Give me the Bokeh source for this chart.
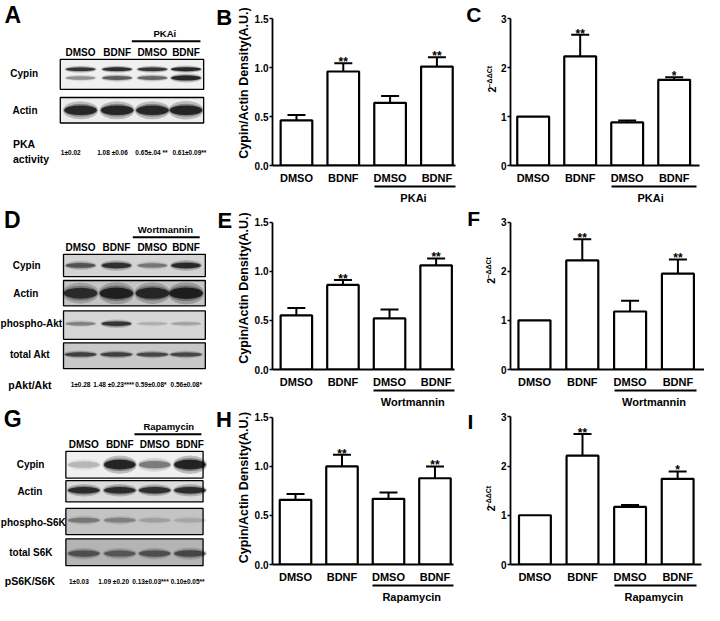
import math
from bokeh.plotting import figure
from bokeh.models import (Range1d, LinearAxis, FixedTicker, NumeralTickFormatter,
                          ColumnDataSource, Whisker, TeeHead)
from bokeh.layouts import row, column
from bokeh.embed import file_html
from bokeh.resources import INLINE
from bokeh.core.properties import value

# ------------------------------------------------------------------ data
lanes = ["DMSO", "BDNF", "DMSO", "BDNF"]
inhibitors = ["PKAi", "Wortmannin", "Rapamycin"]

cypin_pka = [0.46, 0.96, 0.64, 1.01]
cypin_pka_err = [0.055, 0.085, 0.07, 0.095]
cypin_pka_sig = ["", "**", "", "**"]
mrna_pka = [1.0, 2.23, 0.88, 1.75]
mrna_pka_err = [0.0, 0.44, 0.04, 0.05]
mrna_pka_sig = ["", "**", "", "*"]

cypin_wort = [0.55, 0.86, 0.52, 1.06]
cypin_wort_err = [0.075, 0.05, 0.09, 0.07]
cypin_wort_sig = ["", "**", "", "**"]
mrna_wort = [1.0, 2.22, 1.18, 1.95]
mrna_wort_err = [0.0, 0.43, 0.22, 0.29]
mrna_wort_sig = ["", "**", "", "**"]

cypin_rapa = [0.66, 1.0, 0.67, 0.88]
cypin_rapa_err = [0.06, 0.12, 0.065, 0.12]
cypin_rapa_sig = ["", "**", "", "**"]
mrna_rapa = [1.0, 2.21, 1.17, 1.74]
mrna_rapa_err = [0.0, 0.44, 0.04, 0.15]
mrna_rapa_sig = ["", "**", "", "*"]

density_ticks = [0.0, 0.5, 1.0, 1.5]
mrna_ticks = [0, 1, 2, 3]
density_label = "Cypin/Actin Density(A.U.)"
mrna_label_base = "2"
mrna_label_sup = "\u2212\u0394\u0394Ct"

pka_activity = ["1\u00b10.02", "1.08 \u00b10.06", "0.65\u00b1.04 **", "0.61\u00b10.09**"]
pakt_ratio = ["1\u00b10.28", "1.48 \u00b10.23****", "0.59\u00b10.08*", "0.56\u00b10.08*"]
ps6k_ratio = ["1\u00b10.03", "1.09 \u00b10.20", "0.13\u00b10.03***", "0.10\u00b10.05**"]

# western-blot band intensities (0 = none, 1 = saturated), per lane
blotA_cypin_upper = [0.85, 0.9, 0.85, 0.95]
blotA_cypin_lower = [0.35, 0.6, 0.55, 0.95]
blotA_actin = [0.95, 0.95, 0.95, 0.97]
blotD_cypin = [0.6, 0.85, 0.4, 0.9]
blotD_actin = [0.85, 0.95, 0.9, 0.97]
blotD_pakt = [0.35, 0.8, 0.15, 0.2]
blotD_akt = [0.7, 0.7, 0.65, 0.65]
blotG_cypin = [0.2, 0.97, 0.45, 0.98]
blotG_actin = [0.9, 0.9, 0.85, 0.88]
blotG_ps6k = [0.35, 0.3, 0.15, 0.12]
blotG_s6k = [0.55, 0.5, 0.55, 0.6]

# ------------------------------------------------------------------ layout
FONTNAME = "Liberation Sans"
FONT = value(FONTNAME)
S = 0.98
W1, W2 = 233, 264
W3 = 704 - W1 - W2
H1, H2 = 206, 204
H3 = 605 - H1 - H2
PX_COL = [0, W1, W1 + W2]
ROW_T = [0.0, H1 / S, (H1 + H2) / S]


def make_bar(wt, ht, px_col, row_t, g, vals, errs, sigs, ymax, ticks, fmt,
             inhibitor, ylabel=None):
    left = round(g["ax"] * S) - px_col
    fw = wt - left
    fh = round((g["y0"] - row_t) * S)
    bottom = ht - fh
    x0 = -(g["cx0"] - g["ax"]) / g["dx"]
    x1 = x0 + fw / (g["dx"] * S)
    unit_y = (g["y0"] - g["yt"]) * S / ymax
    y1 = fh / unit_y
    p = figure(width=wt, height=ht, x_range=Range1d(x0, x1), y_range=Range1d(0, y1),
               x_axis_type=None, y_axis_type=None, toolbar_location=None,
               output_backend="svg", min_border_left=left, min_border_right=0,
               min_border_top=0, min_border_bottom=bottom)
    p.outline_line_color = None
    p.background_fill_color = "white"
    p.border_fill_color = "white"

    def dxd(rx):
        return x0 + (rx - g["ax"]) / g["dx"]

    def dyd(ry):
        return (g["y0"] - ry) * ymax / (g["y0"] - g["yt"])

    bw = 33.0 / g["dx"]
    xs = list(range(len(vals)))
    src = ColumnDataSource(dict(x=xs, top=vals))
    p.vbar(x="x", top="top", bottom=0, width=bw, source=src, fill_color="white",
           line_color="black", line_width=2.2)

    ex = [i for i in xs if errs[i] > 0]
    esrc = ColumnDataSource(dict(x=ex, lower=[vals[i] for i in ex],
                                 upper=[vals[i] + errs[i] for i in ex]))
    p.add_layout(Whisker(base="x", lower="lower", upper="upper", source=esrc,
                         dimension="height", line_width=2.0, line_color="black",
                         lower_head=None,
                         upper_head=TeeHead(size=18, line_width=2.0, line_color="black")))
    p.text(x=xs, y=[v + e for v, e in zip(vals, errs)], text=sigs,
           text_font=FONT, text_font_style="bold", text_font_size="12px",
           text_align="center", text_baseline="alphabetic", y_offset=-1,
           text_color="black")

    ya = LinearAxis(ticker=FixedTicker(ticks=ticks), formatter=NumeralTickFormatter(format=fmt),
                    bounds=(0, ymax))
    ya.axis_line_width = 1.8
    ya.major_tick_out = 3
    ya.major_tick_in = 0
    ya.major_tick_line_width = 1.6
    ya.minor_tick_line_color = None
    ya.major_label_standoff = 1
    ya.major_label_text_font = FONTNAME
    ya.major_label_text_font_style = "bold"
    ya.major_label_text_font_size = "10px"
    ya.major_label_text_color = "black"
    if ylabel is not None:
        ya.axis_label = ylabel
        ya.axis_label_standoff = 1
        ya.axis_label_text_font = FONTNAME
        ya.axis_label_text_font_style = "bold"
        ya.axis_label_text_font_size = "12.5px"
        ya.axis_label_text_color = "black"
    p.add_layout(ya, "left")

    xa = LinearAxis(ticker=FixedTicker(ticks=xs),
                    major_label_overrides={i: lanes[i] for i in xs},
                    bounds=(x0, dxd(g["xend"])))
    xa.axis_line_width = 1.8
    xa.major_tick_out = 0
    xa.major_tick_in = 0
    xa.major_tick_line_color = None
    xa.minor_tick_line_color = None
    xa.major_label_standoff = 6
    xa.major_label_text_font = FONTNAME
    xa.major_label_text_font_style = "bold"
    xa.major_label_text_font_size = "11px"
    xa.major_label_text_color = "black"
    p.add_layout(xa, "below")

    ga = LinearAxis(ticker=FixedTicker(ticks=[2.5]), major_label_overrides={2.5: inhibitor},
                    bounds=(2 - bw / 2, dxd(g["gend"])))
    ga.axis_line_width = 2.2
    ga.major_tick_out = 0
    ga.major_tick_in = 0
    ga.major_tick_line_color = None
    ga.minor_tick_line_color = None
    ga.major_label_standoff = 5
    ga.major_label_text_font = FONTNAME
    ga.major_label_text_font_style = "bold"
    ga.major_label_text_font_size = "11px"
    ga.major_label_text_color = "black"
    p.add_layout(ga, "below")
    return p, dxd, dyd


def side_texts(p, dxd, dyd, letter, lxy, t2, tsup):
    """panel letter and 2^-ddCt title of the neighbouring chart (left of its axis)"""
    p.text(x=[dxd(lxy[0])], y=[dyd(lxy[1])], text=[letter], text_font=FONT,
           text_font_style="bold", text_font_size="21px", text_align="center",
           text_baseline="middle", text_color="black")
    p.text(x=[dxd(t2[0])], y=[dyd(t2[1])], text=[mrna_label_base], angle=math.pi / 2,
           text_font=FONT, text_font_style="bold", text_font_size="10.5px",
           text_align="center", text_baseline="middle", text_color="black")
    p.text(x=[dxd(tsup[0])], y=[dyd(tsup[1])], text=[mrna_label_sup], angle=math.pi / 2,
           text_font=FONT, text_font_style="bold", text_font_size="7px",
           text_align="center", text_baseline="middle", text_color="black")


GB = dict(ax=272, cx0=297, dx=48.83, xend=463, y0=170.7, yt=19, gend=463)
GC = dict(ax=517.5, cx0=541, dx=48.7, xend=713, y0=170.7, yt=19, gend=710)
GE = dict(ax=271.7, cx0=296.7, dx=48.8, xend=462.7, y0=378.3, yt=226, gend=462.7)
GF = dict(ax=518.3, cx0=543, dx=49.3, xend=718, y0=379, yt=226.7, gend=710)
GH = dict(ax=271.7, cx0=295.8, dx=48.7, xend=461.7, y0=577.7, yt=425.7, gend=461.7)
GI = dict(ax=517.5, cx0=542.8, dx=49.3, xend=715, y0=577.7, yt=425, gend=710)

pB, bx, by = make_bar(W2, H1, PX_COL[1], ROW_T[0], GB, cypin_pka, cypin_pka_err, cypin_pka_sig,
                      1.5, density_ticks, "0.0", inhibitors[0], density_label)
side_texts(pB, bx, by, "C", (482, 14.5), (500.6, 92.3), (498.2, 79))
pC, _, _ = make_bar(W3, H1, PX_COL[2], ROW_T[0], GC, mrna_pka, mrna_pka_err, mrna_pka_sig,
                    3, mrna_ticks, "0", inhibitors[0])

pE, ex_, ey_ = make_bar(W2, H2, PX_COL[1], ROW_T[1], GE, cypin_wort, cypin_wort_err,
                        cypin_wort_sig, 1.5, density_ticks, "0.0", inhibitors[1], density_label)
side_texts(pE, ex_, ey_, "F", (482.5, 222), (500.6, 286.7), (498.2, 273.3))
pF, _, _ = make_bar(W3, H2, PX_COL[2], ROW_T[1], GF, mrna_wort, mrna_wort_err, mrna_wort_sig,
                    3, mrna_ticks, "0", inhibitors[1])

pH, hx, hy = make_bar(W2, H3, PX_COL[1], ROW_T[2], GH, cypin_rapa, cypin_rapa_err,
                      cypin_rapa_sig, 1.5, density_ticks, "0.0", inhibitors[2], density_label)
side_texts(pH, hx, hy, "I", (479, 429.5), (500.6, 519.7), (498.2, 507.5))
pI, _, _ = make_bar(W3, H3, PX_COL[2], ROW_T[2], GI, mrna_rapa, mrna_rapa_err, mrna_rapa_sig,
                    3, mrna_ticks, "0", inhibitors[2])

# ------------------------------------------------------------------ blot column
pw = figure(width=W1, height=605, x_range=Range1d(0, W1 / S),
            y_range=Range1d(605 / S, 0), x_axis_type=None, y_axis_type=None,
            toolbar_location=None, output_backend="svg",
            min_border_left=0, min_border_right=0, min_border_top=0, min_border_bottom=0)
pw.outline_line_color = None
pw.background_fill_color = "white"
pw.border_fill_color = "white"


def txt(xs, ys, texts, size, align="center", style="bold"):
    pw.text(x=xs, y=ys, text=texts, text_font=FONT, text_font_style=style,
            text_font_size=size, text_align=align, text_baseline="middle", text_color="black")


def strip(box, bg, lane_x, bands):
    bx0, bx1, by0, by1 = box
    pw.quad(left=[bx0], right=[bx1], top=[by0], bottom=[by1], fill_color=bg,
            line_color="black", line_width=1.3)
    for inten, frac, h, w in bands:
        yc = by0 + frac * (by1 - by0)
        for k, a in ((1.9, 0.22), (1.35, 0.3), (1.0, 0.75)):
            pw.ellipse(x=lane_x, y=[yc] * len(lane_x), width=[w * (0.9 + 0.1 * k)] * len(lane_x),
                       height=[h * k * (0.55 + 0.45 * i) for i in inten],
                       fill_color="black", fill_alpha=[a * i for i in inten], line_color=None)


def panel(letter, lxy, inhibitor, ixy, iline, lane_y, lane_x, strips, ratio,
          ratio_vals, ratio_y, vals_x):
    txt([lxy[0]], [lxy[1]], [letter], "23px")
    txt([ixy[0]], [ixy[1]], [inhibitor], "9.5px")
    pw.segment(x0=[iline[0]], x1=[iline[1]], y0=[iline[2]], y1=[iline[2]],
               line_color="black", line_width=2.0)
    txt(lane_x, [lane_y] * 4, lanes, "10px")
    for name, nxy, box, bg, bands in strips:
        txt([nxy[0]], [nxy[1]], [name], "10px")
        strip(box, bg, lane_x, bands)
    for rt, rxy, al in ratio:
        txt([rxy[0]], [rxy[1]], [rt], "10.5px", align=al)
    txt(vals_x, [ratio_y] * 4, ratio_vals, "6.5px")


# letters of the middle-column charts (left of their y axes)
txt([228.3, 229, 228], [17, 224, 428], ["B", "E", "H"], "22px")

panel("A", (12.5, 15), inhibitors[0], (167.7, 33.3), (134, 204, 41.7), 52.7,
      [81.7, 119, 155, 189.3],
      [("Cypin", (24.2, 74), (61, 207.3, 60, 90.7), "#f0f0f0",
        [(blotA_cypin_upper, 0.33, 4.0, 30), (blotA_cypin_lower, 0.62, 5.0, 30)]),
       ("Actin", (25, 112.3), (61, 207.3, 99, 125), "#ededed",
        [(blotA_actin, 0.5, 10.0, 33)])],
      [("PKA", (12.7, 146.7), "left"), ("activity", (12.7, 161.7), "left")],
      pka_activity, 155, [71.7, 114.3, 154, 192.7])

panel("D", (12, 224), inhibitors[1], (168.3, 233.3), (135, 203.3, 241.7), 252.3,
      [81.7, 118.3, 155, 189.3],
      [("Cypin", (26.7, 270.7), (64.3, 209, 259, 281.7), "#d4d4d4",
        [(blotD_cypin, 0.5, 6.0, 30)]),
       ("Actin", (25.8, 299), (64.3, 209, 285.7, 311.7), "#c4c4c4",
        [(blotD_actin, 0.5, 12.0, 34)]),
       ("phospho-Akt", (31.5, 330), (64.3, 209, 316.7, 345.7), "#d6d6d6",
        [(blotD_pakt, 0.45, 5.0, 30)]),
       ("total Akt", (30, 361), (64.3, 209, 349.3, 375.7), "#c8c8c8",
        [(blotD_akt, 0.45, 5.0, 32)])],
      [("pAkt/Akt", (30, 392.3), "center")],
      pakt_ratio, 391.7, [81.7, 115.5, 153.5, 189.5])

panel("G", (12.5, 426.7), inhibitors[2], (171.7, 435), (136.7, 205, 442.7), 452.7,
      [85, 121.7, 157.3, 193.3],
      [("Cypin", (30.7, 473.3), (66.7, 206.7, 460, 487.3), "#f0f0f0",
        [(blotG_cypin, 0.5, 10.0, 32)]),
       ("Actin", (30, 500.7), (66.7, 206.7, 490, 511.7), "#dcdcdc",
        [(blotG_actin, 0.45, 7.0, 32)]),
       ("phospho-S6K", (33.5, 532.3), (66.7, 206.7, 518.3, 545), "#c4c4c4",
        [(blotG_ps6k, 0.45, 7.0, 32)]),
       ("total S6K", (31, 563.3), (66.7, 206.7, 549.3, 576.7), "#b4b4b4",
        [(blotG_s6k, 0.55, 8.0, 32)])],
      [("pS6K/S6K", (30, 592.7), "center")],
      ps6k_ratio, 593.3, [80, 115.5, 153, 191])

layout = row(pw, column(pB, pE, pH), column(pC, pF, pI))
open("out.html", "w").write(file_html(layout, INLINE))
